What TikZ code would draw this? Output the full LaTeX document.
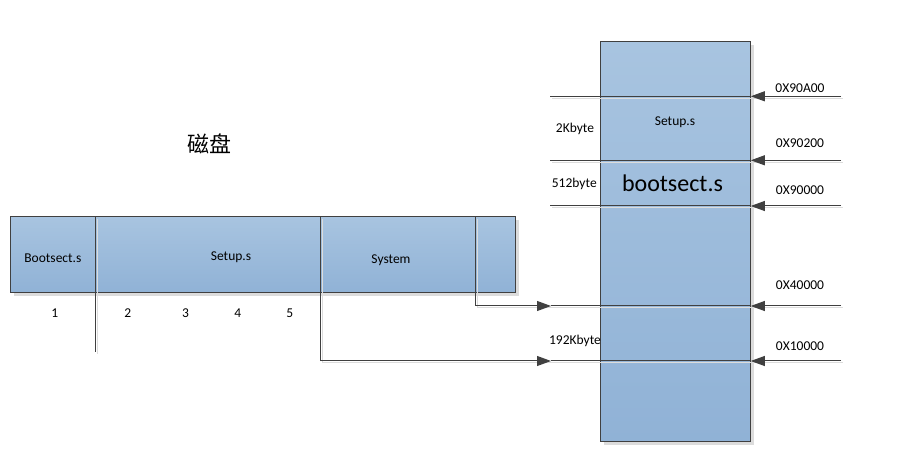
\documentclass[tikz,border=0pt]{standalone}
\usepackage{fontspec}
\setmainfont{Carlito}
\newfontfamily\cjk{Noto Sans CJK SC}
\usetikzlibrary{arrows.meta}
\definecolor{linec}{HTML}{404040}
\definecolor{topc}{HTML}{A8C4E0}
\definecolor{botc}{HTML}{90B2D6}
\definecolor{shad}{HTML}{DCDCDC}
\tikzset{
  box/.style={draw=linec, line width=1pt, top color=topc, bottom color=botc, inner sep=0pt, anchor=center},
  lbl/.style={font=\fontsize{13.5}{15}\selectfont, text=black, inner sep=0pt},
  ln/.style={draw=linec, line width=1pt},
  arr/.style={ln, -{Triangle[length=14pt,width=10pt]}},
  lnshadow/.style={draw=shad, line width=1pt},
}
\begin{document}
\begin{tikzpicture}[x=1pt,y=-1pt]
\useasboundingbox (0,0) rectangle (916,470);
% shadows
\fill[shad] (14,220) rectangle (519,296);
\fill[shad] (604,45) rectangle (754,445);
% disk
\node[box, minimum width=504.7pt, minimum height=75.7pt] (disk) at (263.15,254.45) {};
% memory column
\node[box, minimum width=150pt, minimum height=399.3pt] (mem) at (675.3,241.35) {};

% coordinates
\coordinate (d1top) at (95.7,216.6);
\coordinate (d1bot) at (95.7,352);
\coordinate (d2top) at (320.5,216.6);
\coordinate (d3top) at (475,216.6);
\coordinate (tipA) at (551,306);
\coordinate (tipB) at (551,361);
\coordinate (lA) at (550,96.3);
\coordinate (lB) at (550,160.3);
\coordinate (lC) at (550,206);
\coordinate (rA) at (841,96.3);
\coordinate (rB) at (841,160.3);
\coordinate (rC) at (841,206);
\coordinate (rD) at (841,306);
\coordinate (rE) at (841,361);

% line shadows
\draw[lnshadow] ([shift={(2,2)}]d1top) -- ([shift={(2,2)}]d1bot);
\draw[lnshadow] ([shift={(2,2)}]d3top) |- ([shift={(2,2)}]rD);
\draw[lnshadow] ([shift={(2,2)}]d2top) |- ([shift={(2,2)}]rE);
\draw[lnshadow] ([shift={(2,2)}]lA) -- ([shift={(2,2)}]rA);
\draw[lnshadow] ([shift={(2,2)}]lB) -- ([shift={(2,2)}]rB);
\draw[lnshadow] ([shift={(2,2)}]lC) -- ([shift={(2,2)}]rC);

% disk dividers
\draw[ln] (d1top) -- (d1bot);
\draw[arr] (d2top) |- (tipB);
\draw[ln] (tipB) -- (mem.east |- tipB);
\draw[arr] (d3top) |- (tipA);
\draw[ln] (tipA) -- (mem.east |- tipA);

% memory boundary lines
\draw[ln] (lA) -- (mem.east |- lA);
\draw[ln] (lB) -- (mem.east |- lB);
\draw[ln] (lC) -- (mem.east |- lC);

% address arrows
\draw[arr] (rA) -- (mem.east |- rA);
\draw[arr] (rB) -- (mem.east |- rB);
\draw[arr] (rC) -- (mem.east |- rC);
\draw[arr] (rD) -- (mem.east |- rD);
\draw[arr] (rE) -- (mem.east |- rE);

% disk labels
\node[lbl] (tboot) at (52.9,258.5) {Bootsect.s};
\node[lbl] (tsetup) at (231,257) {Setup.s};
\node[lbl] (tsys) at (391,260) {System};
\node[lbl] (n1) at (54.8,313.5) {1};
\node[lbl] (n2) at (127.8,313.5) {2};
\node[lbl] (n3) at (185.6,313.5) {3};
\node[lbl] (n4) at (237.7,313.5) {4};
\node[lbl] (n5) at (289.7,313.5) {5};
\node[font=\cjk\fontsize{22}{24}\selectfont, inner sep=0pt] (title) at (209,144) {磁盘};

% memory labels
\node[lbl] (msetup) at (675,122) {Setup.s};
\node[font=\fontsize{24}{28}\selectfont, inner sep=0pt] (mboot) at (672.5,183) {bootsect.s};
\node[lbl] (s2k) at (575,128.5) {2Kbyte};
\node[lbl] (s512) at (574.3,183.5) {512byte};
\node[lbl] (s192) at (575,340.5) {192Kbyte};

% addresses
\node[lbl] (a1) at (800,88.5) {0X90A00};
\node[lbl] (a2) at (800,143) {0X90200};
\node[lbl] (a3) at (800,190.5) {0X90000};
\node[lbl] (a4) at (800,285.5) {0X40000};
\node[lbl] (a5) at (800,346) {0X10000};
\end{tikzpicture}
\end{document}
